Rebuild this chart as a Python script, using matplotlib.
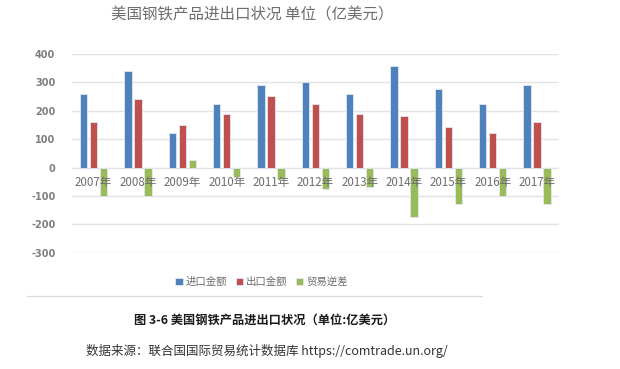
import matplotlib
matplotlib.use("Agg")
import matplotlib.pyplot as plt
import matplotlib.transforms as mtransforms
import numpy as np

plt.rcParams['font.family'] = ['Noto Sans CJK SC', 'DejaVu Sans']

years = ["2007年", "2008年", "2009年", "2010年", "2011年", "2012年",
         "2013年", "2014年", "2015年", "2016年", "2017年"]
imports = [260, 340, 123, 224, 290, 300, 259, 357, 276, 224, 290]
exports = [160, 240, 150, 189, 250, 224, 189, 181, 143, 123, 161]
balance = [-100, -100, 26, -35, -40, -75, -68, -175, -128, -100, -128]
series_names = ["进口金额", "出口金额", "贸易逆差"]
colors = ["#4F81BD", "#C0504D", "#9BBB59"]
yticks = [-300, -200, -100, 0, 100, 200, 300, 400]

fig = plt.figure(figsize=(6.2, 3.69), dpi=100)
ax = fig.add_axes([0.116, 0.315, 0.786, 0.539])

x = np.arange(len(years))
w = 0.165
step = 0.226
for i, (vals, c, n) in enumerate(zip([imports, exports, balance], colors, series_names)):
    ax.bar(x + (i - 1) * step, vals, width=w, color=c, edgecolor="#dfe8f3",
           linewidth=0.6, label=n, zorder=3)

ax.set_ylim(-300, 400)
ax.set_xlim(-0.49, len(years) - 0.5)
ax.set_yticks(yticks)
ax.set_yticklabels([str(v) for v in yticks], fontsize=7, color="#7f7f7f",
                   fontweight="bold", family=['DejaVu Sans'])
ax.grid(axis='y', color="#e3e3e3", linewidth=1.0, zorder=0)
ax.set_axisbelow(True)
for s in ['top', 'right', 'left', 'bottom']:
    ax.spines[s].set_visible(False)
ax.tick_params(axis='y', length=0, pad=12)
ax.set_xticks([])

offset = mtransforms.ScaledTranslation(0, -15 / 100, fig.dpi_scale_trans)
for xi, lab in zip(x, years):
    ax.text(xi, 0, lab, transform=ax.transData + offset, ha='center', va='center',
            fontsize=8.3, color="#6d6d6d", zorder=5)

fig.text(0.407, 0.958, "美国钢铁产品进出口状况 单位（亿美元）", ha='center', va='center',
         fontsize=11.2, color="#6d6d6d")

leg = fig.legend(loc='center', bbox_to_anchor=(0.422, 0.236), ncol=3, frameon=False,
                 fontsize=7.5, handlelength=0.7, handleheight=0.7, handletextpad=0.3,
                 columnspacing=0.8, labelcolor="#6d6d6d")

fig.add_artist(plt.Line2D([0.044, 0.778], [0.198, 0.198], color="#d9d9d9", linewidth=0.9))

fig.text(0.427, 0.133, "图 3-6 美国钢铁产品进出口状况（单位:亿美元）", ha='center', va='center',
         fontsize=8.8, color="#1a1a1a", fontweight='bold')
fig.text(0.43, 0.048, "数据来源：联合国国际贸易统计数据库 https://comtrade.un.org/", ha='center',
         va='center', fontsize=9, color="#333333")

fig.savefig("out.png", dpi=100)
